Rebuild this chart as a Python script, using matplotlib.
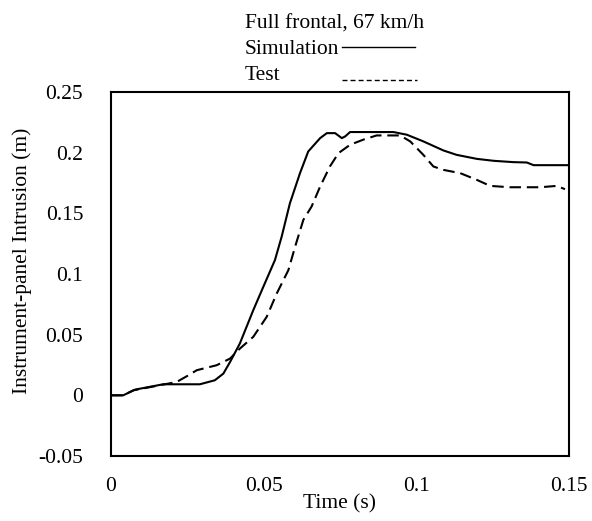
import matplotlib.pyplot as plt
from matplotlib.lines import Line2D

plt.rcParams['font.family'] = 'Liberation Serif'

sim_t = [0, .004, .0079, .0171, .0291, .034, .0368, .039, .0422, .0466, .0499,
         .0537, .0559, .0586, .0619, .0646, .0685, .0707, .0734, .0756, .0767,
         .0783, .0925, .0969, .1023, .1089, .1132, .1198, .1253, .1318, .1362,
         .1384, .1498]
sim_v = [0, 0, .0047, .0091, .0091, .0124, .0179, .0275, .0427, .0702, .0895,
         .1115, .1308, .1583, .1831, .201, .212, .2161, .2161, .212, .2134,
         .217, .217, .2148, .2093, .2018, .1982, .1949, .1933, .1922, .1919,
         .1897, .1897]

test_t = [0, .004, .0073, .016, .0215, .0248, .0281, .0346, .039, .0422, .0466,
          .051, .0543, .0581, .0603, .063, .0657, .0685, .0717, .0745, .0783,
          .0826, .087, .0947, .098, .1023, .1056, .1089, .1144, .1198, .1242,
          .1307, .1405, .146, .1487]
test_v = [0, 0, .0041, .0083, .011, .0157, .0207, .0248, .0303, .0385, .0482,
          .0647, .084, .1032, .1225, .1446, .1556, .1721, .1886, .1996, .2065,
          .2107, .2142, .2142, .2093, .1982, .1886, .1858, .1831, .1776, .1726,
          .1715, .1715, .1726, .1699]

xticks = [0, 0.05, 0.1, 0.15]
xtick_labels = ['0', '0.05', '0.1', '0.15']
yticks = [-0.05, 0, 0.05, 0.1, 0.15, 0.2, 0.25]
ytick_labels = ['-0.05', '0', '0.05', '0.1', '0.15', '0.2', '0.25']

fs = 15.5
W, H = 592, 521

fig = plt.figure(figsize=(5.92, 5.21), dpi=100)
ax = fig.add_axes([0.1875, 0.1248, 0.7736, 0.6986])

ax.plot(sim_t, sim_v, color='black', lw=1.5)
ax.plot(test_t, test_v, color='black', lw=1.5, ls=(0, (5.5, 2.8)))

ax.set_xlim(0, 0.15)
ax.set_ylim(-0.05, 0.25)
ax.set_xticks(xticks)
ax.set_xticklabels(xtick_labels)
ax.set_yticks(yticks)
ax.set_yticklabels(ytick_labels)
ax.tick_params(axis='both', length=0, labelsize=fs)
ax.tick_params(axis='y', pad=20)
ax.tick_params(axis='x', pad=15)
for s in ax.spines.values():
    s.set_linewidth(1.5)

ax.set_xlabel('Time (s)', fontsize=fs)
ax.xaxis.set_label_coords(0.5, -0.104)
ax.set_ylabel('Instrument-panel Intrusion (m)', fontsize=fs)
ax.yaxis.set_label_coords(-0.172, 0.537)

# legend block above the axes
fig.text(245 / W, 1 - 29 / H, 'Full frontal, 67 km/h', fontsize=fs, va='baseline')
fig.text(245 / W, 1 - 54 / H, 'Simulation', fontsize=fs, va='baseline')
fig.text(245 / W, 1 - 80 / H, 'Test', fontsize=fs, va='baseline')
fig.add_artist(Line2D([342 / W, 415 / W], [1 - 47 / H, 1 - 47 / H],
                      color='black', lw=1.0))
fig.add_artist(Line2D([342 / W, 417 / W], [1 - 80 / H, 1 - 80 / H],
                      color='black', lw=1.0, ls=(0, (3.6, 2.2))))

fig.savefig('out.png', dpi=100)
